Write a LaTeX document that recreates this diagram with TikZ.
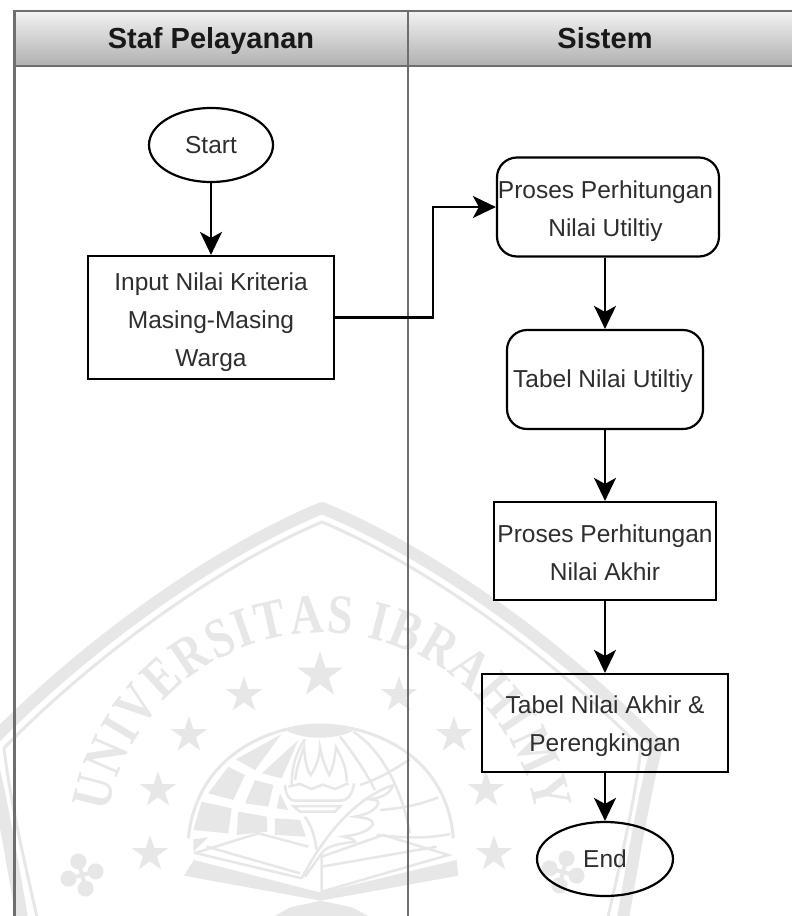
\documentclass[tikz,border=0pt]{standalone}
\usepackage{fontspec}
\setmainfont{Liberation Sans}
\newfontfamily\wmfont[FakeStretch=0.82]{Liberation Serif}
\usetikzlibrary{arrows.meta,decorations.text,shapes.geometric}
\definecolor{lane}{HTML}{6E6E6E}
\definecolor{wm}{HTML}{E7E7E7}
\definecolor{ink}{HTML}{2E2E2E}
% invisible strut on a first line: moves the text of a box down by #1 pt
\newcommand{\tdn}[1]{\rule{0pt}{\dimexpr18pt+#1pt*2\relax}}
\tikzset{
  flowbox/.style={draw=black,line width=2.2pt,align=center,font=\fontsize{24.5}{38}\selectfont,text=ink,inner sep=0pt},
  roundbox/.style={flowbox,rounded corners=20pt},
  oval/.style={flowbox,ellipse},
  conn/.style={draw=black,line width=2.2pt,-{Stealth[length=23pt,width=22pt,inset=6pt]}},
  lanehead/.style={font=\bfseries\fontsize{29}{30}\selectfont,text=black!90,text height=20pt,text depth=0pt,inner sep=0pt},
  wmthick/.style={draw=wm,line width=12pt,line join=round},
  wmthin/.style={draw=wm,line width=3pt,line join=round},
  wmstar/.style={star,star points=5,star point ratio=2.6,fill=wm,inner sep=0pt},
  wmlobe/.style={fill=wm},
}
\begin{document}
\begin{tikzpicture}[x=1pt,y=-1pt]
\useasboundingbox (0,0) rectangle (792,916);
\fill[white] (0,0) rectangle (792,916);
% ---------- watermark ----------
\draw[wmthick] (24,930) .. controls (12,860) and (2,800) .. (-12,745)
  .. controls (90,640) and (220,550) .. (322,508)
  .. controls (425,550) and (555,640) .. (657,745)
  .. controls (643,800) and (633,860) .. (621,930);
\draw[wmthin] (40,930) .. controls (24,860) and (10,800) .. (4,748)
  .. controls (95,655) and (220,565) .. (322,522)
  .. controls (425,565) and (550,655) .. (641,748)
  .. controls (635,800) and (621,860) .. (605,930);
\path[decorate,decoration={text along path,text align={fit to path},
  text={|\wmfont\bfseries\fontsize{56}{56}\selectfont\color{wm}|UNIVERSITAS IBRAHIMY}}]
  (108.3,812.3) .. controls (126.6,708.6) and (216.7,633) .. (322,633)
  .. controls (427.3,633) and (517.4,708.6) .. (535.7,812.3);
\foreach \x/\y/\s in {320/675/48,244/695/38,399/695/38,189/735/38,454/735/38,158/790/38,486/790/38,150/854/38,494/854/38}
  {\node[wmstar,minimum size=\s pt] at (\x,\y) {};}
\foreach \cx/\cy/\rr in {82/875/15,563/872/-15}{
  \begin{scope}[shift={(\cx,\cy)},rotate=\rr]
    \foreach \a in {0,90,180,270}{\fill[wmlobe,rotate=\a] (0,-14) circle[radius=8pt];\draw[wm,line width=4pt,rotate=\a] (0,0) -- (0,-10);}
  \end{scope}}
\begin{scope}[shift={(180,710)},x=0.3333pt,y=-0.3333pt]
  % globe outline
  \draw[wm,line width=3pt] (25,385) .. controls (50,130) and (280,45) .. (420,45) .. controls (570,45) and (800,130) .. (820,385);
  \fill[wm] (320,62) .. controls (370,90) and (470,90) .. (520,62) .. controls (470,45) and (370,45) .. (320,62) -- cycle;
  % cells
  \fill[wm] (168,148) -- (305,72) -- (225,180) -- cycle;
  \fill[wm] (245,190) -- (355,90) -- (305,205) -- cycle;
  \fill[wm] (145,170) -- (195,195) -- (160,270) -- (85,250) -- cycle;
  \fill[wm] (225,210) -- (280,225) -- (265,290) -- (195,280) -- cycle;
  \fill[wm] (65,275) -- (155,295) -- (145,370) -- (40,360) -- cycle;
  \fill[wm] (175,305) -- (260,320) -- (262,365) -- (170,375) -- cycle;
  \fill[wm] (285,325) -- (360,330) -- (378,380) -- (285,375) -- cycle;
  \fill[wm] (40,388) -- (85,382) -- (40,425) -- cycle;
  \fill[wm] (300,250) -- (320,290) -- (325,300) -- (290,295) -- cycle;
  \begin{scope}[draw=wm,line width=2.5pt]
    % latitude and meridian lines on the right
    \draw (540,225) .. controls (600,205) and (640,180) .. (690,148);
    \draw (600,300) .. controls (660,295) and (720,285) .. (775,262);
    \draw (590,375) .. controls (680,385) and (750,385) .. (810,372);
    \draw (480,80) .. controls (520,130) and (560,190) .. (585,240);
    \draw (520,65) .. controls (590,110) and (660,210) .. (690,370);
    \draw (375,88) .. controls (345,130) and (335,180) .. (335,225);
    \draw (375,320) .. controls (395,350) and (405,380) .. (410,420);
    % torch
    \draw (325,230) -- (360,222) -- (395,237) -- (428,224) -- (465,237) -- (505,220);
    \draw (345,210) .. controls (350,170) and (365,130) .. (372,112) .. controls (375,150) and (380,180) .. (392,195) .. controls (410,170) and (418,140) .. (420,112) .. controls (425,140) and (435,170) .. (448,195) .. controls (460,170) and (465,140) .. (468,112) .. controls (490,150) and (500,180) .. (500,215);
    \draw (315,225) .. controls (318,260) and (330,272) .. (345,272) -- (480,272) .. controls (505,272) and (518,250) .. (522,220);
    \draw (340,288) -- (482,288) -- (465,305) -- (360,305) -- cycle;
    % quill
    \draw (365,505) .. controls (420,400) and (510,270) .. (640,225) .. controls (630,250) and (610,262) .. (570,268) .. controls (595,270) and (600,275) .. (590,290) .. controls (570,310) and (550,315) .. (525,320) .. controls (560,325) and (580,325) .. (578,345) .. controls (560,370) and (520,375) .. (490,380) .. controls (510,385) and (525,388) .. (525,395) .. controls (490,400) and (440,405) .. (425,430) -- (375,500);
    % book pages
    \draw (42,430) -- (235,370) -- (385,410);
    \draw (50,430) -- (365,505);
    \draw (80,410) -- (360,490);
    \draw (425,440) -- (610,375) -- (805,435) -- (425,545) -- cycle;
    \draw (425,470) -- (770,410);
  \end{scope}
  % book base and cross
  \fill[wm] (12,497) -- (42,450) -- (422,548) -- (830,450) -- (835,497) -- (422,572) -- cycle;
  \fill[wm] (285,618) -- (330,592) -- (422,572) -- (515,592) -- (565,618) -- (500,640) -- (345,640) -- cycle;
\end{scope}
% ---------- swimlane ----------
\shade[top color=black!5,bottom color=black!31] (14.5,11) rectangle (792,66);
\draw[lane,line width=2.5pt] (792,11) -- (14.5,11) -- (14.5,916);
\draw[lane,line width=2.5pt] (14.5,66) -- (792,66);
\draw[lane,line width=2pt] (408,11) -- (408,916);
\node[lanehead] (h1) at (211,38.5) {Staf Pelayanan};
\node[lanehead] (h2) at (605,38.5) {Sistem};
% ---------- nodes ----------
\node[oval,minimum width=124pt,minimum height=74pt] (start) at (211,145) {Start};
\node[flowbox,minimum width=246pt,minimum height=123pt] (input) at (211,317.5) {\tdn{5}Input Nilai Kriteria\\Masing-Masing\\Warga};
\node[roundbox,minimum width=222pt,minimum height=99pt] (p1) at (608,207) {\tdn{4}Proses Perhitungan\hspace*{5pt}\\Nilai Utiltiy\hspace*{5pt}};
\node[roundbox,minimum width=196pt,minimum height=99pt] (t1) at (605,379.5) {\tdn{2}Tabel Nilai Utiltiy\hspace*{4pt}};
\node[flowbox,minimum width=222pt,minimum height=98pt] (p2) at (605,551) {\tdn{2}Proses Perhitungan\\Nilai Akhir};
\node[flowbox,minimum width=246pt,minimum height=98pt] (t2) at (605,723) {\tdn{3}Tabel Nilai Akhir \&\\Perengkingan};
\node[oval,minimum width=136pt,minimum height=74pt] (end) at (605,859) {End};
% ---------- connectors ----------
\draw[conn] (start) -- (input);
\draw[conn] (input.east) -- (433,317.5) -- (433,207) -- (p1.west);
\draw[conn] (t1.north |- p1.south) -- (t1.north);
\draw[conn] (t1) -- (p2);
\draw[conn] (p2) -- (t2);
\draw[conn] (t2) -- (end);
\end{tikzpicture}
\end{document}
